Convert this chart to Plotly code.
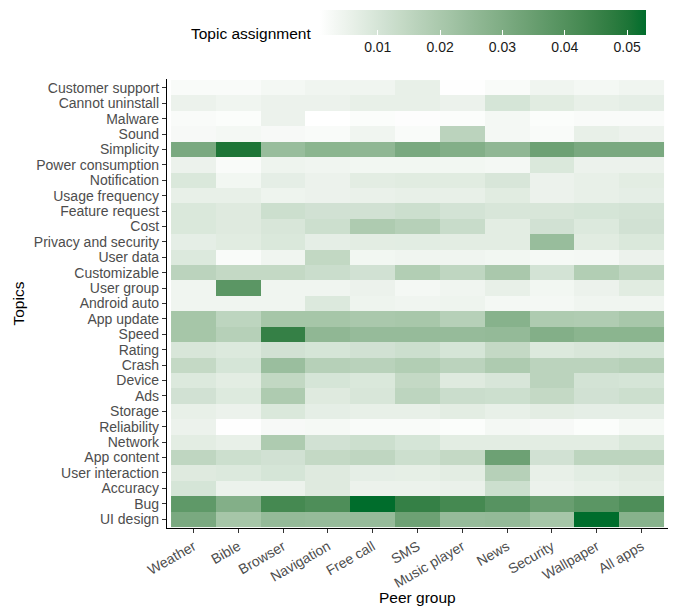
import plotly.graph_objects as go
import numpy as np

topics = ["Customer support", "Cannot uninstall", "Malware", "Sound", "Simplicity",
          "Power consumption", "Notification", "Usage frequency", "Feature request", "Cost",
          "Privacy and security", "User data", "Customizable", "User group", "Android auto",
          "App update", "Speed", "Rating", "Crash", "Device", "Ads", "Storage", "Reliability",
          "Network", "App content", "User interaction", "Accuracy", "Bug", "UI design"]

peer_groups = ["Weather", "Bible", "Browser", "Navigation", "Free call", "SMS",
               "Music player", "News", "Security", "Wallpaper", "All apps"]

# values per peer group, topics listed top-to-bottom
weather = [.002, .005, .002, .0025, .031, .005, .009, .006, .009, .009, .0065, .0085, .016, .004, .004,
           .021, .021, .0095, .014, .0085, .011, .006, .005, .007, .015, .008, .010, .037, .031]
bible = [.002, .004, .0015, .003, .050, .002, .0035, .006, .008, .008, .0075, .002, .014, .038, .004,
         .0155, .017, .0085, .010, .007, .0083, .005, .001, .006, .012, .0085, .005, .029, .021]
browser = [.003, .005, .005, .0025, .024, .0045, .0065, .0045, .012, .0095, .009, .004, .014, .004, .004,
           .021, .046, .011, .0235, .0145, .019, .009, .0025, .019, .011, .010, .005, .043, .025]
navigation = [.004, .005, .0007, .002, .027, .004, .005, .005, .011, .012, .0065, .0145, .0125, .004, .0085,
              .021, .026, .010, .017, .010, .008, .0065, .0028, .011, .014, .008, .008, .041, .0245]
free_call = [.004, .006, .0015, .004, .026, .0035, .007, .0055, .011, .019, .007, .0035, .011, .005, .0045,
             .020, .0245, .011, .0165, .009, .0095, .006, .002, .012, .015, .0065, .005, .053, .0245]
sms = [.006, .006, .0012, .002, .031, .0035, .0075, .006, .012, .017, .0072, .004, .018, .003, .004,
       .0205, .0245, .012, .018, .014, .0155, .006, .002, .010, .012, .0063, .005, .046, .034]
music_player = [.001, .005, .0015, .016, .029, .0035, .0075, .006, .0105, .013, .007, .004, .015, .004, .0045,
                .017, .0245, .010, .016, .008, .0125, .007, .0015, .007, .014, .007, .0055, .043, .0245]
news = [.002, .010, .003, .003, .026, .003, .0095, .0075, .0095, .007, .007, .0035, .020, .006, .003,
        .028, .025, .014, .019, .0095, .012, .006, .003, .007, .034, .017, .012, .039, .025]
security = [.004, .0075, .0015, .002, .034, .009, .005, .005, .0095, .011, .024, .0028, .0105, .0035, .003,
            .019, .029, .0085, .016, .016, .014, .007, .0025, .007, .011, .006, .005, .035, .021]
wallpaper = [.003, .006, .002, .006, .031, .005, .006, .006, .010, .0085, .0075, .003, .018, .005, .004,
             .0185, .027, .0095, .016, .0105, .011, .0065, .0015, .007, .0155, .0072, .006, .038, .053]
all_apps = [.004, .0065, .002, .005, .031, .005, .007, .0065, .0105, .011, .009, .005, .015, .0075, .004,
            .0205, .027, .010, .017, .010, .012, .0065, .0028, .009, .0155, .008, .007, .041, .028]

columns = [weather, bible, browser, navigation, free_call, sms, music_player, news,
           security, wallpaper, all_apps]
cbar_ticks = [0.01, 0.02, 0.03, 0.04, 0.05]

# ---- Lab-interpolated colour scale (white -> #006D2C) ----
def srgb_to_lab(rgb):
    c = np.array(rgb, dtype=float) / 255.0
    c = np.where(c > 0.04045, ((c + 0.055) / 1.055) ** 2.4, c / 12.92)
    M = np.array([[0.4124, 0.3576, 0.1805], [0.2126, 0.7152, 0.0722], [0.0193, 0.1192, 0.9505]])
    xyz = M @ c
    xyz = xyz / np.array([0.95047, 1.0, 1.08883])
    f = np.where(xyz > 0.008856, np.cbrt(xyz), 7.787 * xyz + 16 / 116)
    return np.array([116 * f[1] - 16, 500 * (f[0] - f[1]), 200 * (f[1] - f[2])])

def lab_to_srgb(lab):
    L, a, b = lab
    fy = (L + 16) / 116
    fx = fy + a / 500
    fz = fy - b / 200
    f = np.array([fx, fy, fz])
    xyz = np.where(f ** 3 > 0.008856, f ** 3, (f - 16 / 116) / 7.787)
    xyz = xyz * np.array([0.95047, 1.0, 1.08883])
    Minv = np.array([[3.2406, -1.5372, -0.4986], [-0.9689, 1.8758, 0.0415], [0.0557, -0.2040, 1.0570]])
    c = Minv @ xyz
    c = np.where(c > 0.0031308, 1.055 * np.clip(c, 0, None) ** (1 / 2.4) - 0.055, 12.92 * c)
    c = np.clip(c, 0, 1) * 255
    return "rgb(%d,%d,%d)" % tuple(np.round(c).astype(int))

lo = srgb_to_lab((255, 255, 255))
hi = srgb_to_lab((0, 109, 44))
colorscale = [[t, lab_to_srgb(lo + (hi - lo) * t)] for t in np.linspace(0, 1, 21)]

n_rows = len(topics)
z = [[col[i] for col in columns] for i in range(n_rows)]
ypos = [n_rows - 1 - i for i in range(n_rows)]
xpos = list(range(len(peer_groups)))

FONT = "Liberation Sans, Arial, sans-serif"

fig = go.Figure(go.Heatmap(
    z=z, x=xpos, y=ypos, colorscale=colorscale,
    colorbar=dict(
        orientation="h", x=0.305, xanchor="left", y=1.153, yanchor="top",
        len=0.651, lenmode="fraction", thickness=25, thicknessmode="pixels",
        xpad=0, ypad=0, outlinewidth=0,
        tickvals=cbar_ticks, ticktext=["%.2f" % v for v in cbar_ticks],
        ticks="inside", ticklen=5, tickcolor="white", tickwidth=1,
        tickfont=dict(family=FONT, size=14, color="#1a1a1a"),
    ),
    hoverinfo="skip",
))

fig.update_layout(
    width=678, height=610,
    margin=dict(l=167, r=10, t=77, b=82),
    plot_bgcolor="white", paper_bgcolor="white",
    font=dict(family=FONT, size=14, color="#4D4D4D"),
    xaxis=dict(range=[-0.59, 10.59], tickmode="array", tickvals=xpos, ticktext=peer_groups,
               tickangle=-30, showline=True, linecolor="black", linewidth=1.2,
               ticks="outside", ticklen=4, tickcolor="#333333", showgrid=False, zeroline=False,
               tickfont=dict(family=FONT, size=14, color="#4D4D4D")),
    yaxis=dict(range=[-0.57, n_rows - 1 + 0.57], tickmode="array", tickvals=ypos, ticktext=topics,
               showline=True, linecolor="black", linewidth=1.2,
               ticks="outside", ticklen=4, tickcolor="#333333", showgrid=False, zeroline=False,
               tickfont=dict(family=FONT, size=14, color="#4D4D4D")),
    annotations=[
        dict(text="Peer group", xref="paper", yref="paper", x=0.5, y=-(598 - 528) / 451,
             xanchor="center", yanchor="middle", showarrow=False,
             font=dict(family=FONT, size=15.5, color="black")),
        dict(text="Topics", xref="paper", yref="paper", x=-(167 - 18) / 501, y=0.5,
             xanchor="center", yanchor="middle", textangle=-90, showarrow=False,
             font=dict(family=FONT, size=15.5, color="black")),
        dict(text="Topic assignment", xref="paper", yref="paper", x=(313 - 167) / 501,
             y=(528 - 31.5) / 451, xanchor="right", yanchor="middle", showarrow=False,
             font=dict(family=FONT, size=15.5, color="black")),
    ],
)

fig.write_html("out.html")
